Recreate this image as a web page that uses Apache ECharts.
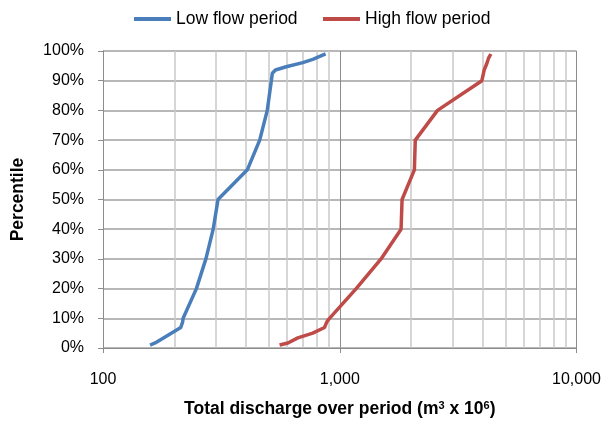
<!DOCTYPE html>
<html>
<head>
<meta charset="utf-8">
<script src="https://cdn.jsdelivr.net/npm/echarts@6/dist/echarts.min.js"></script>
<style>
  html, body { margin: 0; padding: 0; background: #fff; }
  #chart { width: 604px; height: 425px; }
</style>
</head>
<body>
<div id="chart"></div>
<script>
// Flow-duration style curves: total discharge (m3 x 10^6) against percentile
const lowDischarge  = [158, 166, 180, 213, 217, 218, 248, 272, 292, 306, 407, 459, 494, 514, 519, 535, 594, 698, 769, 871];
const lowPercentile = [1, 1.7, 3.4, 6.9, 8.8, 10, 20, 30, 40, 50, 60, 70, 80, 90, 92.5, 93.6, 94.7, 96.1, 97.2, 99];

const highDischarge  = [557, 604, 665, 769, 862, 882, 905, 1173, 1494, 1815, 1833, 2066, 2084, 2587, 3983, 4073, 4180, 4246, 4345];
const highPercentile = [1, 1.7, 3.4, 5, 6.9, 8.8, 10, 20, 30, 40, 50, 60, 70, 80, 90, 93.6, 95.8, 97.5, 99];

const seriesNames = ['Low flow period', 'High flow period'];
const xTickLabels = ['100', '1,000', '10,000'];
// Intermediate log gridlines between the decades
const minorGrid = [200, 300, 400, 500, 600, 700, 800, 900, 2000, 3000, 4000, 5000, 6000, 7000, 8000, 9000];

const pairs = (xs, ys) => xs.map((x, i) => [x, ys[i]]);

const chart = echarts.init(document.getElementById('chart'), null, { renderer: 'canvas' });

const font = 'Liberation Sans, Arial, sans-serif';
const legendBase = {
  top: 5,
  itemWidth: 37,
  itemHeight: 4,
  icon: 'rect',
  textStyle: { fontSize: 17.5, color: '#000', fontFamily: font }
};

chart.setOption({
  animation: false,
  textStyle: { fontFamily: font },
  legend: [
    Object.assign({ left: 129, data: [seriesNames[0]] }, legendBase),
    Object.assign({ left: 318, data: [seriesNames[1]] }, legendBase)
  ],
  grid: { left: 103, right: 26, top: 51, bottom: 77 },
  xAxis: {
    type: 'log',
    logBase: 10,
    min: 100,
    max: 10000,
    name: 'Total discharge over period (m{sup|3} x 10{sup|6})',
    nameLocation: 'middle',
    nameGap: 52,
    nameTextStyle: {
      fontSize: 17.5, fontWeight: 'bold', color: '#000', fontFamily: font,
      rich: { sup: { fontSize: 11, fontWeight: 'bold', verticalAlign: 'top', padding: [0, 0, 8, 0], fontFamily: font } }
    },
    axisLine: { show: true, lineStyle: { color: '#8c8c8c', width: 1 } },
    axisTick: { show: true, inside: false, length: 5, lineStyle: { color: '#8c8c8c' } },
    axisLabel: {
      margin: 24, fontSize: 16, color: '#000', fontFamily: font,
      formatter: v => {
        const idx = Math.round(Math.log10(v)) - 2;
        return xTickLabels[idx] !== undefined ? xTickLabels[idx] : '';
      }
    },
    splitLine: { show: true, lineStyle: { color: '#8c8c8c', width: 1 } }
  },
  yAxis: {
    type: 'value',
    min: 0,
    max: 100,
    interval: 10,
    name: 'Percentile',
    nameLocation: 'middle',
    nameGap: 76,
    nameTextStyle: { fontSize: 17.5, fontWeight: 'bold', color: '#000', fontFamily: font },
    axisLine: { show: true, lineStyle: { color: '#8c8c8c', width: 1 } },
    axisTick: { show: true, inside: false, length: 5, lineStyle: { color: '#8c8c8c' } },
    axisLabel: { margin: 19, fontSize: 16, color: '#000', fontFamily: font, formatter: '{value}%' },
    splitLine: { show: true, lineStyle: { color: '#a0a0a0', width: 1.5 } }
  },
  series: [
    {
      name: seriesNames[0],
      type: 'line',
      data: pairs(lowDischarge, lowPercentile),
      showSymbol: false,
      lineStyle: { color: '#4a7ebb', width: 3.5 },
      itemStyle: { color: '#4a7ebb' },
      z: 5,
      markLine: {
        silent: true,
        symbol: ['none', 'none'],
        label: { show: false },
        animation: false,
        lineStyle: { color: '#c8c8c8', width: 1.5, type: 'solid' },
        data: minorGrid.map(v => ({ xAxis: v }))
      }
    },
    {
      name: seriesNames[1],
      type: 'line',
      data: pairs(highDischarge, highPercentile),
      showSymbol: false,
      lineStyle: { color: '#be4b48', width: 3.5 },
      itemStyle: { color: '#be4b48' },
      z: 5
    }
  ]
});
</script>
</body>
</html>
